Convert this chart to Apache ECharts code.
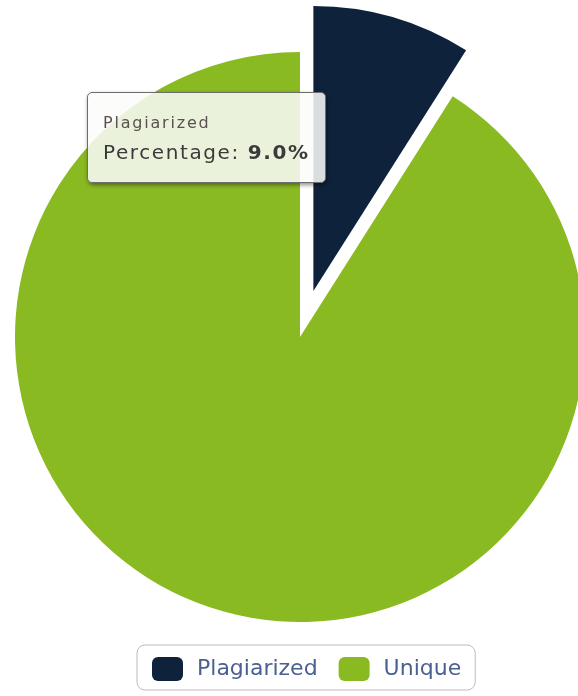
<!DOCTYPE html>
<html>
<head>
<meta charset="utf-8">
<script src="https://cdn.jsdelivr.net/npm/echarts@6/dist/echarts.min.js"></script>
<style>
  html, body { margin: 0; padding: 0; background: #fff; }
  #main { width: 578px; height: 696px; }
</style>
</head>
<body>
<div id="main"></div>
<script>
// data
const names = ['Plagiarized', 'Unique'];
const values = [9.0, 91.0];
const colors = ['#0e233b', '#8aba22'];

const myChart = echarts.init(document.getElementById('main'));

const option = {
    animation: false,
    tooltip: {
        trigger: 'item',
        triggerOn: 'none',
        alwaysShowContent: true,
        transitionDuration: 0,
        position: [87, 92],
        backgroundColor: 'rgba(252,252,250,0.86)',
        borderColor: '#6d6d6d',
        borderWidth: 1,
        padding: [0, 0],
        extraCssText: 'width:237px;height:89px;border-radius:5px;box-shadow:1px 2px 4px rgba(0,0,0,0.45);box-sizing:content-box;',
        formatter: function (p) {
            return '<div style="font-family:DejaVu Sans,sans-serif;color:#333;line-height:1;padding:22px 0 0 15px">' +
                '<div style="font-size:16px;letter-spacing:1.8px;color:#5a5050">' + p.name + '</div>' +
                '<div style="font-size:20px;letter-spacing:1.6px;margin-top:11px;color:#3a3a3a">Percentage: <b>' + p.value.toFixed(1) + '%</b></div></div>';
        }
    },
    legend: {
        data: names,
        left: 137,
        top: 645,
        orient: 'horizontal',
        icon: 'roundRect',
        itemWidth: 31,
        itemHeight: 24,
        itemGap: 21,
        borderColor: '#bbbbbb',
        borderWidth: 1,
        borderRadius: 8,
        padding: [12, 14, 9, 15],
        selectedMode: false,
        textStyle: {
            fontFamily: 'DejaVu Sans',
            fontSize: 22,
            color: '#4a6090',
            padding: [0, 0, 0, 9]
        }
    },
    series: [
        {
            type: 'pie',
            center: [300, 337],
            radius: 285,
            startAngle: 90,
            clockwise: true,
            selectedMode: 'single',
            selectedOffset: 48,
            label: { show: false },
            labelLine: { show: false },
            emphasis: { scale: false, disabled: true },
            itemStyle: { borderWidth: 0 },
            data: names.map(function (n, i) {
                return {
                    name: n,
                    value: values[i],
                    selected: i === 0,
                    itemStyle: { color: colors[i] }
                };
            })
        }
    ]
};

myChart.setOption(option);
myChart.dispatchAction({ type: 'showTip', seriesIndex: 0, dataIndex: 0 });
</script>
</body>
</html>
